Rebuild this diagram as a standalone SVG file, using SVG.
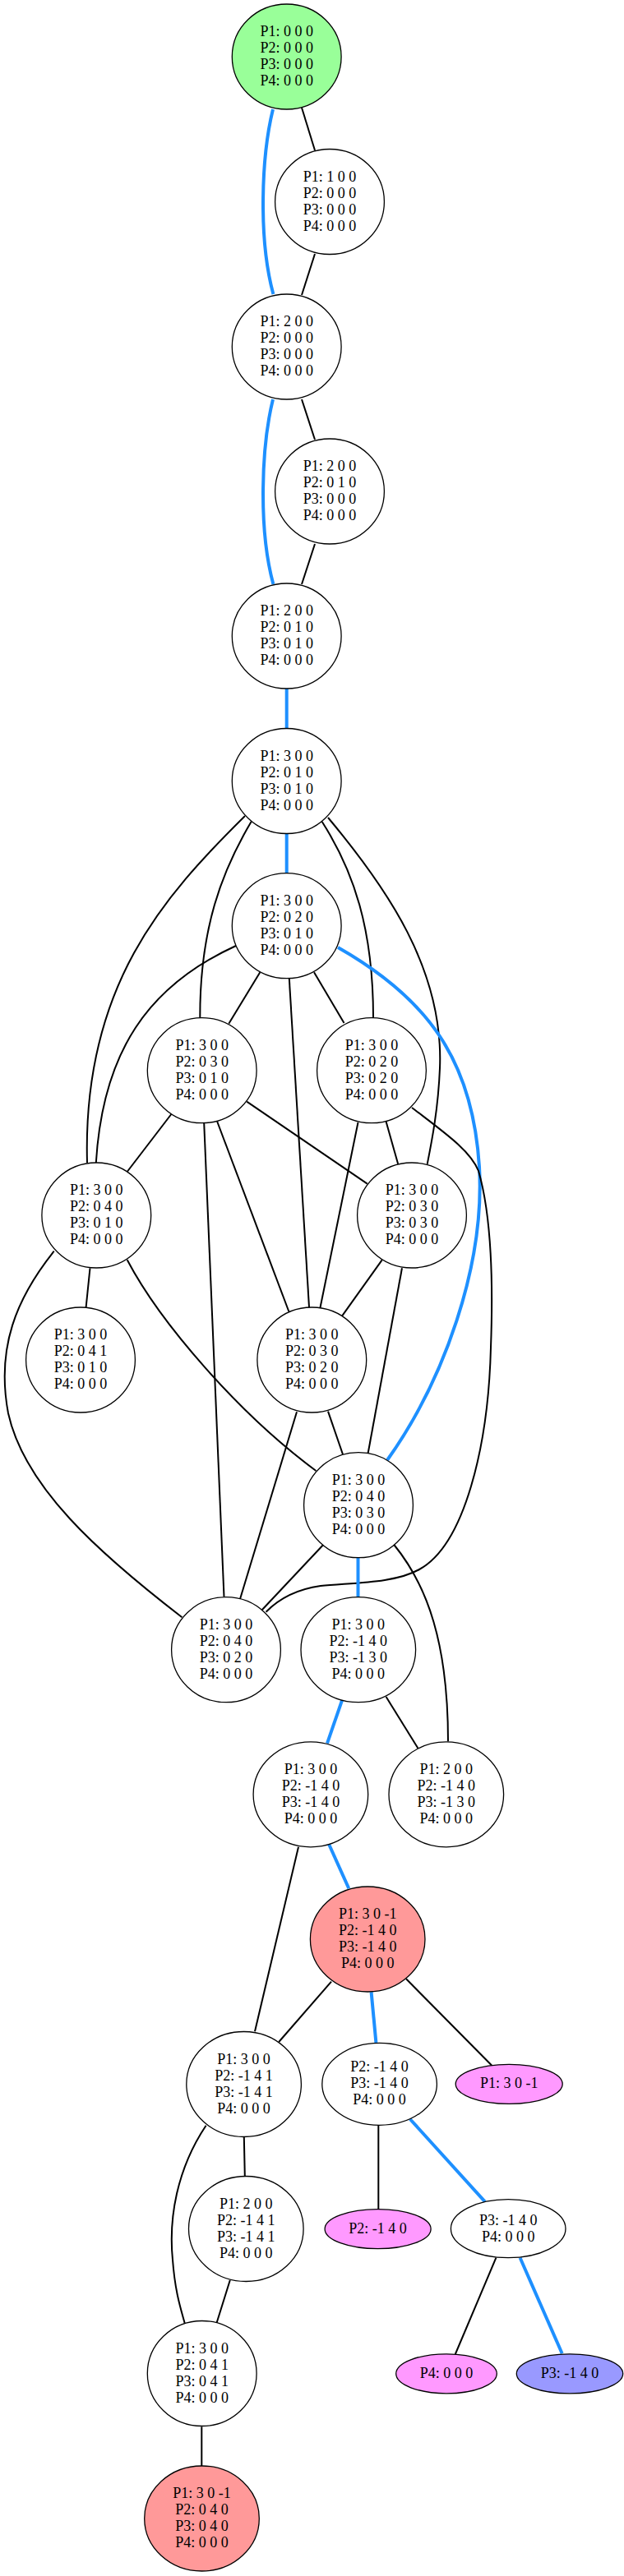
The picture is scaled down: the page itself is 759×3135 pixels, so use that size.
<svg xmlns="http://www.w3.org/2000/svg" width="759" height="3135" viewBox="0 0 759 3135">
<style>
.n ellipse{stroke:#000;stroke-width:1.3;fill:#fff}
.n text{font-family:"Liberation Serif","Times New Roman",serif;font-size:18px;text-anchor:middle;fill:#000}
.e path{fill:none;stroke:#000;stroke-width:2}
.e path.b{stroke:#1e90ff;stroke-width:4}
.g{fill:#99ff99 !important}
.r{fill:#ff9999 !important}
.m{fill:#ff99ff !important}
.u{fill:#9999ff !important}
</style>
<rect width="759" height="3135" fill="#fff"/>
<g id="edges" class="e">
<path class="b" d="M332,133 C318,190 314,290 332.4,358"/>
<path d="M367,131 L383,183"/>
<path d="M383,309 L367,359"/>
<path class="b" d="M332,486 C318,543 314,643 332.4,711"/>
<path d="M367,486 L383,535"/>
<path d="M383,662 L367,711"/>
<path class="b" d="M348.7,838 L348.7,887"/>
<path d="M298,993 C200,1090 100,1200 106,1415"/>
<path d="M305.6,1000 C270,1060 243,1130 243.3,1238.7"/>
<path d="M391.7,1000 C430,1060 454,1130 454,1238.7"/>
<path d="M399,995 C470,1080 540,1180 535,1300 C533,1350 525,1390 519.7,1416.7"/>
<path class="b" d="M348.7,1014 L348.7,1063"/>
<path class="b" d="M411,1153 C520,1215 575,1290 583,1420 C590,1540 540,1680 471,1777"/>
<path d="M287,1151 C180,1200 125,1280 116.8,1415"/>
<path d="M316.3,1183.3 L278.3,1245.7"/>
<path d="M351.8,1191 L376,1591"/>
<path d="M382,1183.3 L418.5,1245"/>
<path d="M208.3,1356 L154.7,1426"/>
<path d="M300.2,1340.7 L446.7,1440.7"/>
<path d="M248.2,1366.7 L272.5,1943.3"/>
<path d="M264.2,1365 L351.3,1596"/>
<path d="M435.5,1366 L389.3,1592.3"/>
<path d="M469.6,1365 L484.2,1416.7"/>
<path d="M501,1348 C540,1378 572,1400 582,1425 C598,1480 600,1560 597,1640 C594,1760 565,1880 510,1910 C480,1927 430,1926 390,1930 C355,1935 335,1950 323.6,1961.7"/>
<path d="M109.5,1543.3 L104.6,1591"/>
<path d="M154.7,1533.3 C195,1610 290,1720 384.4,1790"/>
<path d="M65.7,1522.7 C20,1580 -5,1640 10,1720 C30,1810 120,1890 221.4,1968.3"/>
<path d="M464.7,1533.3 L416,1601.7"/>
<path d="M489,1543.3 L447.7,1768.3"/>
<path d="M399,1717.7 L417,1770"/>
<path d="M361,1718.3 L292,1946"/>
<path d="M393.2,1880 L318.7,1959.3"/>
<path class="b" d="M435.5,1896 L435.5,1943"/>
<path d="M479.3,1880 C520,1930 545,2000 545,2119.3"/>
<path class="b" d="M416,2069.3 L398,2121.7"/>
<path d="M469.6,2065 L508.5,2127.7"/>
<path class="b" d="M400,2244.3 L424.3,2298.3"/>
<path d="M363,2247.7 L310,2472.3"/>
<path d="M403,2411.7 L339.2,2485"/>
<path class="b" d="M451.6,2424.3 L457.4,2486"/>
<path d="M494,2408.3 L598.5,2514"/>
<path d="M296.8,2600.7 L297.8,2648.3"/>
<path d="M250.6,2586.7 C215,2640 205,2700 210,2750 C213,2790 220,2810 224.8,2827.7"/>
<path d="M460.3,2586.3 L460.3,2688.7"/>
<path class="b" d="M498.8,2579 L589.8,2679.3"/>
<path d="M279.8,2775 L263.3,2827.7"/>
<path d="M603.4,2747.7 L553.8,2865"/>
<path class="b" d="M632.6,2747.7 L683.7,2864.3"/>
<path d="M245.3,2953.3 L245.3,3001"/>
</g>
<g id="n0" class="n"><ellipse class="g" cx="348.7" cy="69" rx="66.4" ry="64"/><text x="348.7" y="44">P1: 0 0 0</text><text x="348.7" y="64">P2: 0 0 0</text><text x="348.7" y="84">P3: 0 0 0</text><text x="348.7" y="104">P4: 0 0 0</text></g>
<g id="n1" class="n"><ellipse cx="401" cy="245.5" rx="66.4" ry="64"/><text x="401" y="220.5">P1: 1 0 0</text><text x="401" y="240.5">P2: 0 0 0</text><text x="401" y="260.5">P3: 0 0 0</text><text x="401" y="280.5">P4: 0 0 0</text></g>
<g id="n2" class="n"><ellipse cx="348.7" cy="422" rx="66.4" ry="64"/><text x="348.7" y="397">P1: 2 0 0</text><text x="348.7" y="417">P2: 0 0 0</text><text x="348.7" y="437">P3: 0 0 0</text><text x="348.7" y="457">P4: 0 0 0</text></g>
<g id="n3" class="n"><ellipse cx="401" cy="598" rx="66.4" ry="64"/><text x="401" y="573">P1: 2 0 0</text><text x="401" y="593">P2: 0 1 0</text><text x="401" y="613">P3: 0 0 0</text><text x="401" y="633">P4: 0 0 0</text></g>
<g id="n4" class="n"><ellipse cx="348.7" cy="774" rx="66.4" ry="64"/><text x="348.7" y="749">P1: 2 0 0</text><text x="348.7" y="769">P2: 0 1 0</text><text x="348.7" y="789">P3: 0 1 0</text><text x="348.7" y="809">P4: 0 0 0</text></g>
<g id="n5" class="n"><ellipse cx="348.7" cy="950.5" rx="66.4" ry="64"/><text x="348.7" y="925.5">P1: 3 0 0</text><text x="348.7" y="945.5">P2: 0 1 0</text><text x="348.7" y="965.5">P3: 0 1 0</text><text x="348.7" y="985.5">P4: 0 0 0</text></g>
<g id="n6" class="n"><ellipse cx="348.7" cy="1126.7" rx="66.4" ry="64"/><text x="348.7" y="1101.7">P1: 3 0 0</text><text x="348.7" y="1121.7">P2: 0 2 0</text><text x="348.7" y="1141.7">P3: 0 1 0</text><text x="348.7" y="1161.7">P4: 0 0 0</text></g>
<g id="n7" class="n"><ellipse cx="245.7" cy="1302.7" rx="66.4" ry="64"/><text x="245.7" y="1277.7">P1: 3 0 0</text><text x="245.7" y="1297.7">P2: 0 3 0</text><text x="245.7" y="1317.7">P3: 0 1 0</text><text x="245.7" y="1337.7">P4: 0 0 0</text></g>
<g id="n8" class="n"><ellipse cx="452" cy="1302.7" rx="66.4" ry="64"/><text x="452" y="1277.7">P1: 3 0 0</text><text x="452" y="1297.7">P2: 0 2 0</text><text x="452" y="1317.7">P3: 0 2 0</text><text x="452" y="1337.7">P4: 0 0 0</text></g>
<g id="n9" class="n"><ellipse cx="117.3" cy="1479" rx="66.4" ry="64"/><text x="117.3" y="1454">P1: 3 0 0</text><text x="117.3" y="1474">P2: 0 4 0</text><text x="117.3" y="1494">P3: 0 1 0</text><text x="117.3" y="1514">P4: 0 0 0</text></g>
<g id="n10" class="n"><ellipse cx="501" cy="1479" rx="66.4" ry="64"/><text x="501" y="1454">P1: 3 0 0</text><text x="501" y="1474">P2: 0 3 0</text><text x="501" y="1494">P3: 0 3 0</text><text x="501" y="1514">P4: 0 0 0</text></g>
<g id="n11" class="n"><ellipse cx="98" cy="1655" rx="66.4" ry="64"/><text x="98" y="1630">P1: 3 0 0</text><text x="98" y="1650">P2: 0 4 1</text><text x="98" y="1670">P3: 0 1 0</text><text x="98" y="1690">P4: 0 0 0</text></g>
<g id="n12" class="n"><ellipse cx="379.3" cy="1655" rx="66.4" ry="64"/><text x="379.3" y="1630">P1: 3 0 0</text><text x="379.3" y="1650">P2: 0 3 0</text><text x="379.3" y="1670">P3: 0 2 0</text><text x="379.3" y="1690">P4: 0 0 0</text></g>
<g id="n13" class="n"><ellipse cx="436" cy="1831.7" rx="66.4" ry="64"/><text x="436" y="1806.7">P1: 3 0 0</text><text x="436" y="1826.7">P2: 0 4 0</text><text x="436" y="1846.7">P3: 0 3 0</text><text x="436" y="1866.7">P4: 0 0 0</text></g>
<g id="n14" class="n"><ellipse cx="275" cy="2007.7" rx="66.4" ry="64"/><text x="275" y="1982.7">P1: 3 0 0</text><text x="275" y="2002.7">P2: 0 4 0</text><text x="275" y="2022.7">P3: 0 2 0</text><text x="275" y="2042.7">P4: 0 0 0</text></g>
<g id="n15" class="n"><ellipse cx="435.8" cy="2007.7" rx="69.8" ry="64"/><text x="435.8" y="1982.7">P1: 3 0 0</text><text x="435.8" y="2002.7">P2: -1 4 0</text><text x="435.8" y="2022.7">P3: -1 3 0</text><text x="435.8" y="2042.7">P4: 0 0 0</text></g>
<g id="n16" class="n"><ellipse cx="377.9" cy="2183.8" rx="69.8" ry="64"/><text x="377.9" y="2158.8">P1: 3 0 0</text><text x="377.9" y="2178.8">P2: -1 4 0</text><text x="377.9" y="2198.8">P3: -1 4 0</text><text x="377.9" y="2218.8">P4: 0 0 0</text></g>
<g id="n17" class="n"><ellipse cx="542.8" cy="2183.8" rx="69.8" ry="64"/><text x="542.8" y="2158.8">P1: 2 0 0</text><text x="542.8" y="2178.8">P2: -1 4 0</text><text x="542.8" y="2198.8">P3: -1 3 0</text><text x="542.8" y="2218.8">P4: 0 0 0</text></g>
<g id="n18" class="n"><ellipse class="r" cx="447.2" cy="2360" rx="69.8" ry="64"/><text x="447.2" y="2335">P1: 3 0 -1</text><text x="447.2" y="2355">P2: -1 4 0</text><text x="447.2" y="2375">P3: -1 4 0</text><text x="447.2" y="2395">P4: 0 0 0</text></g>
<g id="n19" class="n"><ellipse cx="296.6" cy="2536.5" rx="69.8" ry="64"/><text x="296.6" y="2511.5">P1: 3 0 0</text><text x="296.6" y="2531.5">P2: -1 4 1</text><text x="296.6" y="2551.5">P3: -1 4 1</text><text x="296.6" y="2571.5">P4: 0 0 0</text></g>
<g id="n20" class="n"><ellipse cx="461.6" cy="2536.3" rx="69.8" ry="50"/><text x="461.6" y="2521.3">P2: -1 4 0</text><text x="461.6" y="2541.3">P3: -1 4 0</text><text x="461.6" y="2561.3">P4: 0 0 0</text></g>
<g id="n21" class="n"><ellipse class="m" cx="619.2" cy="2536.3" rx="65" ry="24"/><text x="619.2" y="2541.3">P1: 3 0 -1</text></g>
<g id="n22" class="n"><ellipse cx="299.3" cy="2712.5" rx="69.8" ry="64"/><text x="299.3" y="2687.5">P1: 2 0 0</text><text x="299.3" y="2707.5">P2: -1 4 1</text><text x="299.3" y="2727.5">P3: -1 4 1</text><text x="299.3" y="2747.5">P4: 0 0 0</text></g>
<g id="n23" class="n"><ellipse class="m" cx="459.6" cy="2712.7" rx="64.5" ry="24"/><text x="459.6" y="2717.7">P2: -1 4 0</text></g>
<g id="n24" class="n"><ellipse cx="618.2" cy="2712.2" rx="69.8" ry="35.5"/><text x="618.2" y="2708.2">P3: -1 4 0</text><text x="618.2" y="2728.2">P4: 0 0 0</text></g>
<g id="n25" class="n"><ellipse cx="245.7" cy="2888.5" rx="66.4" ry="64"/><text x="245.7" y="2863.5">P1: 3 0 0</text><text x="245.7" y="2883.5">P2: 0 4 1</text><text x="245.7" y="2903.5">P3: 0 4 1</text><text x="245.7" y="2923.5">P4: 0 0 0</text></g>
<g id="n26" class="n"><ellipse class="m" cx="543" cy="2888.8" rx="61.3" ry="24"/><text x="543" y="2893.8">P4: 0 0 0</text></g>
<g id="n27" class="n"><ellipse class="u" cx="693" cy="2888.8" rx="64.7" ry="24"/><text x="693" y="2893.8">P3: -1 4 0</text></g>
<g id="n28" class="n"><ellipse class="r" cx="245.5" cy="3065" rx="69.8" ry="64"/><text x="245.5" y="3040">P1: 3 0 -1</text><text x="245.5" y="3060">P2: 0 4 0</text><text x="245.5" y="3080">P3: 0 4 0</text><text x="245.5" y="3100">P4: 0 0 0</text></g>
</svg>
